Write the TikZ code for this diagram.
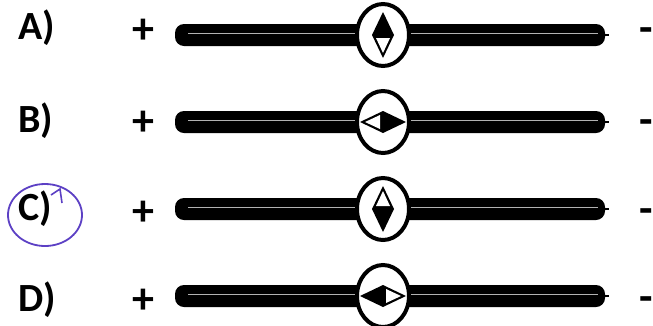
\documentclass[tikz,border=0pt]{standalone}
\usepackage{fontspec}
\setmainfont{Carlito}
\definecolor{penmark}{RGB}{92,64,196}
\tikzset{
	lbl/.style={font=\fontsize{40}{44}\selectfont\bfseries, inner sep=0pt},
	sgn/.style={font=\fontsize{44}{48}\selectfont\bfseries, inner sep=0pt},
	bar/.style={fill=black, rounded corners=9pt},
	dial/.style={draw=black, line width=4pt, fill=white},
}

\begin{document}
\begin{tikzpicture}[x=1pt,y=-1pt]
			
			\useasboundingbox (0,0) rectangle (653,325);
			
			\foreach \y/\ly/\py/\my/\label/\ang in {
				35/39/31/35/A/90,
				122/132/123/127/B/0,
				209/220/213/216/C/270,
				296/311/301/304/D/180
			}
			{
				\node[lbl, anchor=base west] (lab\label) at (18,\ly) {\label)};
				\node[sgn] (plus\label) at (143,\py) {+};
				\node[sgn, anchor=west] (minus\label) at (639,\my) {-};
				\fill[bar] (175,\y-11) rectangle (605,\y+11);
				\draw[line width=2pt] (603,\y) -- (609,\y);
				\draw[gray!60, line width=0.3pt] (188,\y-2) -- (598,\y-2);
				\draw[dial] (383,\y) ellipse [x radius=26, y radius=31];
				\begin{scope}[shift={(383,\y)}, rotate=\ang]
					\fill (-23,0) -- (0,-11) -- (23,0) -- (0,11) -- cycle;
					\fill[white] (-3,-7) -- (-3,7) -- (-18,0) -- cycle;
				\end{scope}
			}
			
			\draw[penmark, line width=1.8pt] (45,215) ellipse [x radius=37, y radius=31];
			\draw[penmark, line width=1.6pt] (51,195) -- (60,189) -- (62,203);
			
		\end{tikzpicture}
\end{document}
